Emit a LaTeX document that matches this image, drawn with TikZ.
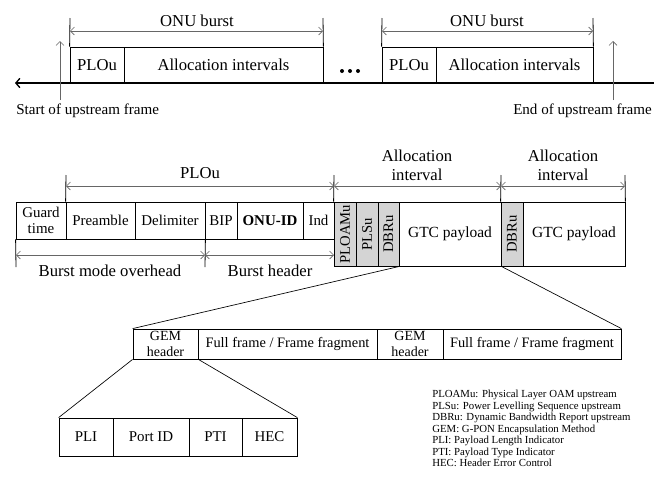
\documentclass[tikz,border=0pt]{standalone}
\usepackage{fontspec}
\setmainfont{Liberation Serif}
\usetikzlibrary{arrows.meta,fit}
\begin{document}
\begin{tikzpicture}[x=0.75pt,y=-0.75pt,
  cell/.style={draw, inner sep=0pt, line width=0.6pt},
  greycell/.style={cell, fill=black!17},
  ctext/.style={inner sep=0pt, font=\fontsize{11.2}{12}\selectfont, align=center},
  ctextbig/.style={inner sep=0pt, font=\fontsize{12.5}{14}\selectfont, align=center},
  vlabel/.style={inner sep=0pt, rotate=90, font=\fontsize{11}{12.5}\selectfont},
  big/.style={inner sep=0pt, font=\fontsize{12.5}{14.4}\selectfont, align=center},
  mid/.style={inner sep=0pt, font=\fontsize{11.3}{13}\selectfont},
  dim/.style={draw=black!60, line width=0.5pt, {Straight Barb[length=3pt,width=6pt]}-{Straight Barb[length=3pt,width=6pt]}},
  tickline/.style={draw=black, line width=0.6pt},
  uparrow/.style={draw=black!60, line width=0.5pt, -{Straight Barb[length=3pt,width=6pt]}},
  fan/.style={draw=black, line width=0.5pt},
  legendtext/.style={inner sep=0pt, align=left, font=\fontsize{8.1}{8.6}\selectfont}
]
\useasboundingbox (0,0) rectangle (654,483);

% ---------------- Top: upstream frame ----------------
\coordinate (tlR) at (654,83);
\coordinate (tlL) at (15,83);
\draw[line width=0.8pt, -{Straight Barb[length=3pt,width=7pt,line width=1pt]}] (tlR) -- (tlL);

\node[cell, fit={(70,47) (124,83)}] (plou1) {};
\node[ctextbig] at (plou1.center) {PLOu};
\node[cell, fit={(124,47) (323,83)}] (alloc1) {};
\node[ctextbig] at (alloc1.center) {Allocation intervals};
\node[cell, fit={(382,47) (436,83)}] (plou2) {};
\node[ctextbig] at (plou2.center) {PLOu};
\node[cell, fit={(436,47) (593,83)}] (alloc2) {};
\node[ctextbig] at (alloc2.center) {Allocation intervals};

\fill (342,71) circle (2) (350,71) circle (2) (358,71) circle (2);

% ONU burst dimensions
\coordinate (ob1a) at (70,31); \coordinate (ob1b) at (323,31);
\draw[tickline] (70,18) -- (plou1.north west);
\draw[tickline] (323,18) -- (alloc1.north east);
\draw[dim] (ob1a) -- (ob1b);
\node[big] (onub1) at (197,21) {ONU burst};
\coordinate (ob2a) at (382,31); \coordinate (ob2b) at (593,31);
\draw[tickline] (382,18) -- (plou2.north west);
\draw[tickline] (593,18) -- (alloc2.north east);
\draw[dim] (ob2a) -- (ob2b);
\node[big] (onub2) at (487,21) {ONU burst};

% start / end arrows
\coordinate (sA) at (60,100); \coordinate (sB) at (60,41);
\draw[uparrow] (sA) -- (sB);
\coordinate (eA) at (613,100); \coordinate (eB) at (613,41);
\draw[uparrow] (eA) -- (eB);
\node[mid, anchor=west] (startlbl) at (16,111) {Start of upstream frame};
\node[mid, anchor=east] (endlbl) at (652,111) {End of upstream frame};

% ---------------- Middle: burst detail ----------------
\node[cell, fit={(16,202) (66,239)}] (guard) {};
\node[ctext] at (guard.center) {Guard\\time};
\node[cell, fit={(66,202) (135,239)}] (pre) {};
\node[ctext] at (pre.center) {Preamble};
\node[cell, fit={(135,202) (205,239)}] (delim) {};
\node[ctext] at (delim.center) {Delimiter};
\node[cell, fit={(205,202) (237,239)}] (bip) {};
\node[ctext] at (bip.center) {BIP};
\node[cell, fit={(237,202) (303,239)}] (onuid) {};
\node[ctext] at (onuid.center) {\textbf{ONU-ID}};
\node[cell, fit={(303,202) (334,239)}] (ind) {};
\node[ctext] at (ind.center) {Ind};

\node[greycell, fit={(334,202) (356,266)}] (ploam) {};
\node[vlabel] at (ploam.center) {PLOAMu};
\node[greycell, fit={(356,202) (378,266)}] (plsu) {};
\node[vlabel] at (plsu.center) {PLSu};
\node[greycell, fit={(378,202) (399,266)}] (dbru) {};
\node[vlabel] at (dbru.center) {DBRu};
\node[cell, fit={(399,202) (501,266)}] (gtc1) {};
\node[ctext, font=\fontsize{11.6}{13}\selectfont] at (gtc1.center) {GTC payload};
\node[greycell, fit={(501,202) (523,266)}] (dbru2) {};
\node[vlabel] at (dbru2.center) {DBRu};
\node[cell, fit={(523,202) (625,266)}] (gtc2) {};
\node[ctext, font=\fontsize{11.6}{13}\selectfont] at (gtc2.center) {GTC payload};

% upper dimensions
\draw[tickline] (66,175) -- (pre.north west);
\draw[tickline] (334,175) -- (ploam.north west);
\draw[tickline] (501,175) -- (dbru2.north west);
\draw[tickline] (625,175) -- (gtc2.north east);
\coordinate (pA) at (66,186); \coordinate (pB) at (334,186);
\coordinate (aA) at (501,186); \coordinate (aB) at (625,186);
\draw[dim] (pA) -- (pB);
\draw[dim] (pB) -- (aA);
\draw[dim] (aA) -- (aB);
\node[big] (ploulbl) at (200,173) {PLOu};
\node[big] (ai1) at (417,165) {Allocation\\interval};
\node[big] (ai2) at (563,165) {Allocation\\interval};

% lower dimensions
\draw[tickline] (guard.south west) -- (16,267);
\draw[tickline] (delim.south east) -- (205,267);
\coordinate (bA) at (16,255); \coordinate (bB) at (205,255); \coordinate (bC) at (334,255);
\draw[dim] (bA) -- (bB);
\draw[dim] (bB) -- (bC);
\node[big] (bmo) at (110,271) {Burst mode overhead};
\node[big] (bh) at (270,271) {Burst header};

% ---------------- GEM row ----------------
\node[cell, fit={(133,329) (198,359)}] (gemh1) {};
\node[ctext, font=\fontsize{10.5}{11.5}\selectfont] at (gemh1.center) {GEM\\header};
\node[cell, fit={(198,329) (377,359)}] (ff1) {};
\node[ctext, font=\fontsize{10.8}{12}\selectfont] at (ff1.center) {Full frame / Frame fragment};
\node[cell, fit={(377,329) (443,359)}] (gemh2) {};
\node[ctext, font=\fontsize{10.5}{11.5}\selectfont] at (gemh2.center) {GEM\\header};
\node[cell, fit={(443,329) (621,359)}] (ff2) {};
\node[ctext, font=\fontsize{10.8}{12}\selectfont] at (ff2.center) {Full frame / Frame fragment};

\draw[fan] (dbru.south east) -- (gemh1.north west);
\draw[fan] (gtc1.south east) -- (ff2.north east);

% ---------------- GEM header detail ----------------
\node[cell, fit={(59,418) (113,456)}] (pli) {};
\node[ctext] at (pli.center) {PLI};
\node[cell, fit={(113,418) (189,456)}] (port) {};
\node[ctext] at (port.center) {Port ID};
\node[cell, fit={(189,418) (242,456)}] (pti) {};
\node[ctext] at (pti.center) {PTI};
\node[cell, fit={(242,418) (297,456)}] (hec) {};
\node[ctext] at (hec.center) {HEC};

\draw[fan] (gemh1.south west) -- (pli.north west);
\draw[fan] (gemh1.south east) -- (hec.north east);

% ---------------- Legend ----------------
\node[legendtext, anchor=north west] (legend) at (432,390) {PLOAMu: Physical Layer OAM upstream\\
PLSu: Power Levelling Sequence upstream\\
DBRu: Dynamic Bandwidth Report upstream\\
GEM: G-PON Encapsulation Method\\
PLI: Payload Length Indicator\\
PTI: Payload Type Indicator\\
HEC: Header Error Control};
\end{tikzpicture}
\end{document}
